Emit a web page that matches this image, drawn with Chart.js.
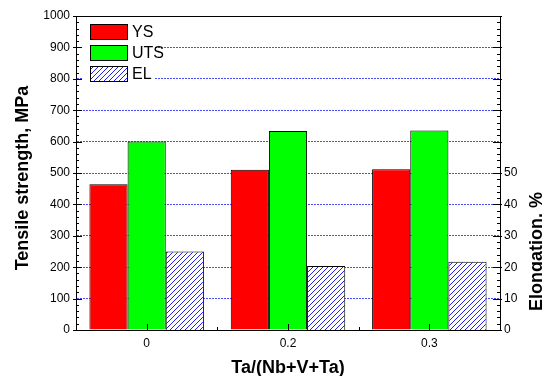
<!DOCTYPE html>
<html>
<head>
<meta charset="utf-8">
<script src="https://cdn.jsdelivr.net/npm/chart.js@4"></script>
<style>
  body { margin: 0; background: #fff; }
  #wrap { width: 542px; height: 376px; }
</style>
</head>
<body>
<div id="wrap"><canvas id="myChart" width="542" height="376"></canvas></div>
<script>
const categories = ['0', '0.2', '0.3'];
const ysValues = [464, 510, 512];
const utsValues = [600, 634, 635];
const elValues = [25, 20.4, 21.7];
const seriesLabels = ['YS', 'UTS', 'EL'];
const strengthTicks = [0, 100, 200, 300, 400, 500, 600, 700, 800, 900, 1000];
const elongationTicks = [0, 10, 20, 30, 40, 50];

const FONT = '"Liberation Sans", Arial, sans-serif';

function makeHatch() {
    const c = document.createElement('canvas');
    c.width = 5;
    c.height = 5;
    const g = c.getContext('2d');
    g.fillStyle = '#fff';
    g.fillRect(0, 0, 5, 5);
    g.strokeStyle = '#2020ff';
    g.lineWidth = 1;
    g.beginPath();
    g.moveTo(-1, 6); g.lineTo(6, -1);
    g.moveTo(-1, 1); g.lineTo(1, -1);
    g.moveTo(4, 6); g.lineTo(6, 4);
    g.stroke();
    return g.createPattern(c, 'repeat');
}
const hatch = makeHatch();

// inward ticks, frame, legend and axis titles
const decor = {
    id: 'decor',
    afterDraw(chart) {
        const ctx = chart.ctx;
        const a = chart.chartArea;
        const y = chart.scales.y, y2 = chart.scales.y2, x = chart.scales.x;
        ctx.save();
        ctx.setLineDash([]);
        ctx.strokeStyle = '#000';
        ctx.lineWidth = 1;
        ctx.beginPath();
        // top frame
        ctx.moveTo(a.left, Math.round(a.top) + 0.5);
        ctx.lineTo(a.right, Math.round(a.top) + 0.5);
        // left axis ticks
        for (let v = 0; v <= 1000; v += 20) {
            const py = Math.round(y.getPixelForValue(v)) + 0.5;
            const major = v % 100 === 0;
            ctx.moveTo(a.left - (major ? 3 : 0), py);
            ctx.lineTo(a.left + (major ? 6 : 3), py);
        }
        // right axis ticks
        for (let v = 0; v <= 100; v += 2) {
            const py = Math.round(y2.getPixelForValue(v)) + 0.5;
            const major = v % 10 === 0;
            ctx.moveTo(a.right + (major ? 2 : 0), py);
            ctx.lineTo(a.right - (major ? 7 : 3), py);
        }
        // x ticks
        for (let i = 0; i < categories.length; i++) {
            const px = Math.round(x.getPixelForValue(i)) + 0.5;
            ctx.moveTo(px, a.bottom);
            ctx.lineTo(px, a.bottom - 6);
            if (i > 0) {
                const bx = Math.round((x.getPixelForValue(i) + x.getPixelForValue(i - 1)) / 2) + 0.5;
                ctx.moveTo(bx, a.bottom);
                ctx.lineTo(bx, a.bottom - 3);
            }
        }
        ctx.stroke();

        // legend
        ctx.fillStyle = '#fff';
        ctx.fillRect(a.left + 7, a.top + 1, 71, 70);
        ctx.font = '16px ' + FONT;
        ctx.textBaseline = 'middle';
        chart.data.datasets.forEach((ds, i) => {
            const bx = 90.5, by = 24.5 + i * 21;
            ctx.fillStyle = ds.backgroundColor;
            ctx.fillRect(bx, by, 37, 15);
            ctx.strokeStyle = '#000';
            ctx.strokeRect(bx, by, 37, 15);
            ctx.fillStyle = '#000';
            ctx.fillText(ds.label, 132, by + 8);
        });

        // axis titles
        ctx.font = 'bold 18px ' + FONT;
        ctx.fillStyle = '#000';
        ctx.textAlign = 'center';
        ctx.textBaseline = 'alphabetic';
        ctx.fillText('Ta/(Nb+V+Ta)', (a.left + a.right) / 2, 373);

        ctx.save();
        ctx.translate(28, (a.top + a.bottom) / 2 + 5);
        ctx.rotate(-Math.PI / 2);
        ctx.fillText('Tensile strength, MPa', 0, 0);
        ctx.restore();

        ctx.save();
        ctx.translate(542, (y2.getPixelForValue(0) + y2.getPixelForValue(50)) / 2);
        ctx.rotate(-Math.PI / 2);
        ctx.fillText('Elongation, %', 0, 0);
        ctx.restore();

        ctx.restore();
    }
};

new Chart(document.getElementById('myChart'), {
    type: 'bar',
    data: {
        labels: categories,
        datasets: [
            { label: seriesLabels[0], data: ysValues, yAxisID: 'y', backgroundColor: '#ff0000', borderColor: '#000', borderWidth: 1 },
            { label: seriesLabels[1], data: utsValues, yAxisID: 'y', backgroundColor: '#00ff00', borderColor: '#000', borderWidth: 1 },
            { label: seriesLabels[2], data: elValues, yAxisID: 'y2', backgroundColor: hatch, borderColor: '#000', borderWidth: 1 }
        ]
    },
    options: {
        responsive: false,
        animation: false,
        layout: { padding: { top: 16, left: 0, right: 0, bottom: 0 } },
        datasets: { bar: { categoryPercentage: 0.81, barPercentage: 1.0 } },
        plugins: {
            legend: { display: false },
            tooltip: { enabled: false }
        },
        scales: {
            x: {
                grid: { display: false, drawTicks: false },
                border: { display: true, color: '#000', width: 1 },
                ticks: { color: '#000', font: { family: FONT, size: 12 }, padding: 6 },
                afterFit: (s) => { s.height = 46; }
            },
            y: {
                position: 'left',
                min: 0,
                max: 1000,
                afterBuildTicks: (s) => { s.ticks = strengthTicks.map(v => ({ value: v })); },
                grid: { color: '#4a4aff', drawTicks: false },
                border: { display: true, color: '#000', width: 1, dash: [2, 1] },
                ticks: { color: '#000', font: { family: FONT, size: 12 }, padding: 6, callback: (v) => String(v) },
                afterFit: (s) => { s.width = 76; }
            },
            y2: {
                position: 'right',
                min: 0,
                max: 100,
                afterBuildTicks: (s) => { s.ticks = elongationTicks.map(v => ({ value: v })); },
                grid: { display: false, drawTicks: false },
                border: { display: true, color: '#000', width: 1 },
                ticks: { color: '#000', font: { family: FONT, size: 12 }, padding: 4, callback: (v) => String(v) },
                afterFit: (s) => { s.width = 42; }
            }
        }
    },
    plugins: [decor]
});
</script>
</body>
</html>
